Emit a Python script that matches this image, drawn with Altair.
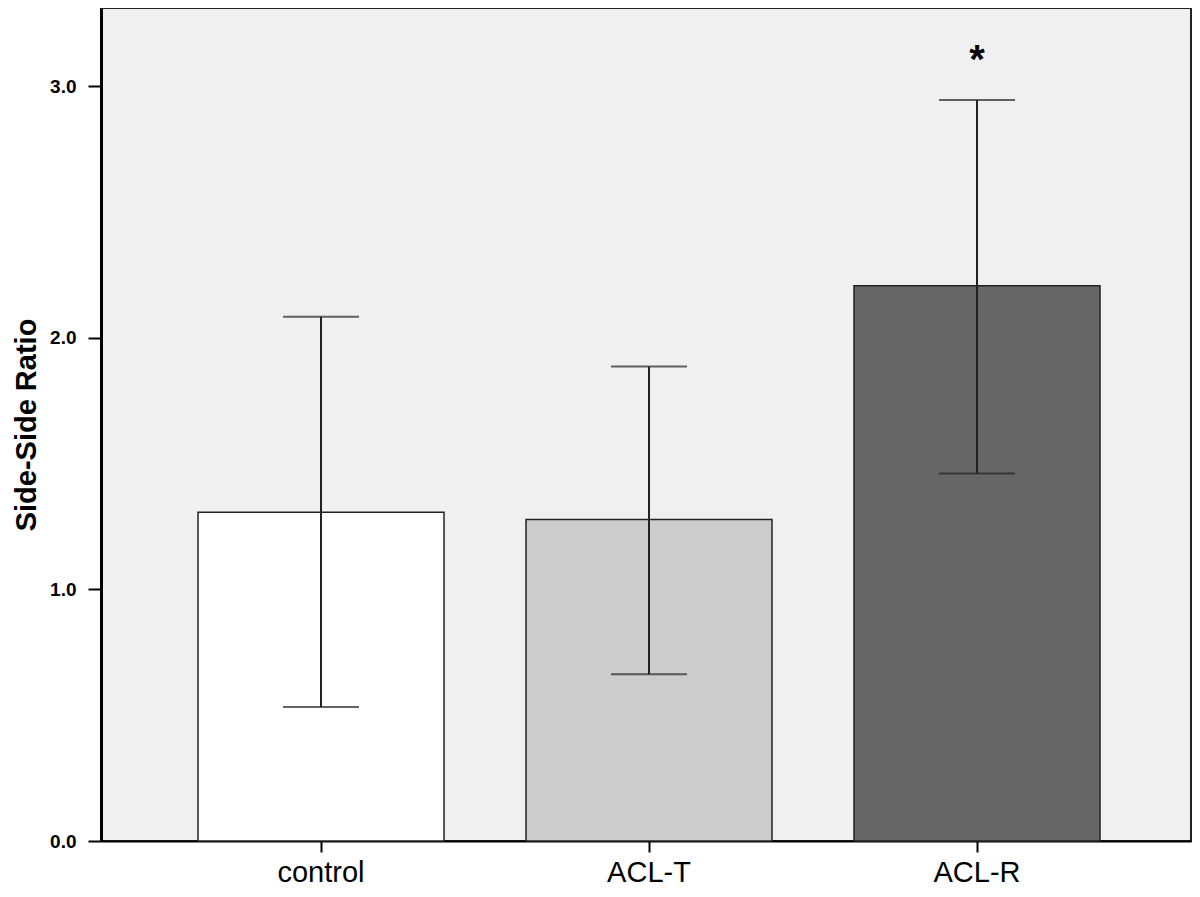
import altair as alt
import pandas as pd

groups = ["control", "ACL-T", "ACL-R"]
means = [1.306, 1.278, 2.206]
upper = [2.083, 1.885, 2.944]
lower = [0.532, 0.663, 1.460]
fills = ["#ffffff", "#cccccc", "#666666"]
star_group = ["ACL-R"]
star_y = [3.14]
star_text = ["*"]

df = pd.DataFrame({"group": groups, "mean": means, "upper": upper, "lower": lower})
sdf = pd.DataFrame({"group": star_group, "y": star_y, "t": star_text})

x = alt.X("group:N", sort=groups,
          scale=alt.Scale(paddingInner=0.25, paddingOuter=0.2866, align=0.516),
          axis=alt.Axis(title=None, labelAngle=0, labelFont="Liberation Sans",
                        labelFontSize=29, labelColor="#000", labelPadding=6,
                        tickSize=11, tickColor="#000", tickWidth=2,
                        domainColor="#000", domainWidth=2))
yscale = alt.Scale(domain=[0, 3.31], nice=False, zero=True)

bars = alt.Chart(df).mark_bar(stroke="#222", strokeWidth=1.5).encode(
    x=x,
    y=alt.Y("mean:Q", scale=yscale,
            axis=alt.Axis(title="Side-Side Ratio", values=[0, 1, 2, 3], format=".1f",
                          labelFont="Liberation Sans", labelFontSize=19, labelFontWeight="bold",
                          labelColor="#000", labelPadding=12, tickSize=13, tickColor="#000",
                          tickWidth=2, domainColor="#000", domainWidth=3, grid=False,
                          titleFont="Liberation Sans", titleFontSize=29,
                          titleFontWeight="bold", titleColor="#000", titlePadding=8)),
    fill=alt.Fill("group:N", scale=alt.Scale(domain=groups, range=fills), legend=None),
)

rules = alt.Chart(df).mark_rule(color="#222", strokeWidth=2).encode(
    x=alt.X("group:N", sort=groups), y="lower:Q", y2="upper:Q")
caps_up = alt.Chart(df).mark_tick(color="#222", size=76, thickness=2, orient="horizontal").encode(
    x=alt.X("group:N", sort=groups), y="upper:Q")
caps_lo = alt.Chart(df).mark_tick(color="#222", size=76, thickness=2, orient="horizontal").encode(
    x=alt.X("group:N", sort=groups), y="lower:Q")
star = alt.Chart(sdf).mark_text(fontSize=40, fontWeight="bold", font="Liberation Sans",
                                 color="#000", baseline="middle", dy=10).encode(
    x=alt.X("group:N", sort=groups), y="y:Q", text="t:N")

chart = alt.layer(bars, rules, caps_up, caps_lo, star).properties(
    width=1090, height=833,
    autosize=alt.AutoSizeParams(type="none"),
    padding={"left": 93, "top": 0, "right": 1, "bottom": 47},
    background="#ffffff",
).configure_view(fill="#f0f0f0", stroke="#222", strokeWidth=2)

chart.save("out.html", embed_options={"renderer": "svg", "actions": False})
